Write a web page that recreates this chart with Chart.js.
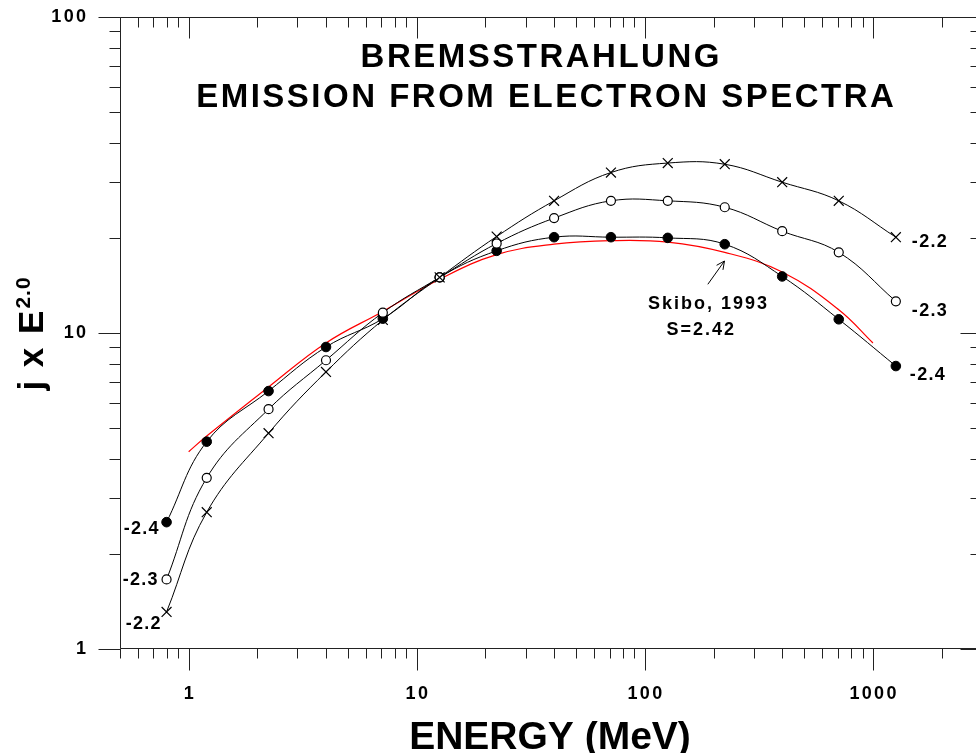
<!DOCTYPE html>
<html><head><meta charset="utf-8">
<script src="https://cdn.jsdelivr.net/npm/chart.js@4.4.1/dist/chart.umd.min.js"></script>
<style>html,body{margin:0;padding:0;overflow:hidden;background:#fff;width:976px;height:753px}canvas{display:block}</style>
</head><body>
<canvas id="c" width="990" height="753" style="width:990px;height:753px"></canvas>
<script>
// ---- data ----
const energies = [0.8, 1.2, 2.24, 4, 7.1, 12.6, 22.4, 40, 71, 126, 224, 400, 708, 1260];
const spectrum22 = [1.31, 2.71, 4.82, 7.53, 11.0, 15.0, 20.2, 26.2, 32.2, 34.5, 34.2, 30.0, 26.2, 20.1];
const spectrum23 = [1.66, 3.48, 5.74, 8.2, 11.6, 15.0, 19.2, 23.1, 26.2, 26.2, 25.0, 21.0, 18.0, 12.6];
const spectrum24 = [2.52, 4.53, 6.55, 9.03, 11.1, 15.0, 18.2, 20.1, 20.1, 20.0, 19.1, 15.1, 11.05, 7.86];
const skiboEnergies = [1.0, 1.2, 2.24, 4, 7.1, 12.6, 22.4, 40, 71, 126, 224, 400, 708, 1000];
const skiboValues = [4.21, 4.72, 6.75, 9.3, 11.7, 14.8, 17.7, 19.1, 19.6, 19.4, 18.0, 15.6, 11.85, 9.3];
const seriesLabels = ['-2.2', '-2.3', '-2.4'];
const xTickLabels = [1, 10, 100, 1000];
const yTickLabels = [1, 10, 100];
const titleLines = ['BREMSSTRAHLUNG', 'EMISSION FROM ELECTRON SPECTRA'];
const xTitle = 'ENERGY (MeV)';
const yTitleMain = 'j x E';
const yTitleSup = '2.0';
const noteLines = ['Skibo, 1993', 'S=2.42'];

// ---- axis tick positions (1..9 x 10^n) ----
function logTicks(min, max) {
  const out = [];
  for (let d = -2; d <= 5; d++) for (let m = 1; m <= 9; m++) {
    const v = +(m * Math.pow(10, d)).toPrecision(6);
    if (v >= min - 1e-9 && v <= max + 1e-9) out.push(v);
  }
  return out;
}
const X_MIN = 0.5, X_MAX = 3000, Y_MIN = 1, Y_MAX = 100;
const isMajor = v => Math.abs(Math.log10(v) - Math.round(Math.log10(v))) < 1e-6;

const FONT = '"Liberation Sans", Arial, Helvetica, sans-serif';
function drawSpaced(ctx, text, x, y, align, spacing) {
  const chars = [...text];
  const widths = chars.map(c => ctx.measureText(c).width);
  const total = widths.reduce((a, b) => a + b, 0) + spacing * (chars.length - 1);
  let sx = align === 'center' ? x - total / 2 : align === 'right' ? x - total : x;
  ctx.textAlign = 'left';
  chars.forEach((c, i) => { ctx.fillText(c, sx, y); sx += widths[i] + spacing; });
  return total;
}

const decor = {
  id: 'decor',
  afterDraw(chart) {
    const ctx = chart.ctx, xs = chart.scales.x, ys = chart.scales.y, a = chart.chartArea;
    const L = Math.round(a.left) + 0.5, R = Math.round(a.right) - 0.5, T = Math.round(a.top) + 0.5, B = Math.round(a.bottom) - 0.5;
    ctx.save();
    // frame
    ctx.strokeStyle = '#222'; ctx.lineWidth = 1;
    ctx.beginPath();
    ctx.moveTo(L, T); ctx.lineTo(R, T); ctx.lineTo(R, B); ctx.lineTo(L, B); ctx.closePath();
    ctx.stroke();
    // ticks
    ctx.beginPath();
    xs.ticks.forEach(t => {
      const px = Math.round(xs.getPixelForValue(t.value)) + 0.5;
      const mj = isMajor(t.value);
      ctx.moveTo(px, B); ctx.lineTo(px, B + (mj ? 22 : 10));
      ctx.moveTo(px, T); ctx.lineTo(px, T + (mj ? 21 : 10));
    });
    ys.ticks.forEach(t => {
      const py = Math.round(ys.getPixelForValue(t.value)) + 0.5;
      const mj = isMajor(t.value);
      ctx.moveTo(L - (mj ? 22 : 11), py); ctx.lineTo(L, py);
      ctx.moveTo(R - (mj ? 21 : 11), py); ctx.lineTo(R, py);
    });
    ctx.stroke();

    ctx.fillStyle = '#000';
    ctx.textBaseline = 'middle';
    ctx.font = 'bold 18px ' + FONT;
    xTickLabels.forEach(v => drawSpaced(ctx, String(v), xs.getPixelForValue(v), 694, 'center', 2.3));
    yTickLabels.forEach(v => drawSpaced(ctx, String(v), 86, ys.getPixelForValue(v), 'right', 2.3));

    // series end labels
    const sets = [spectrum22, spectrum23, spectrum24];
    const leftOff = [[-6, 12], [-9, 1], [-8, 7]];
    const rightOff = [[16, 5], [16, 10], [14, 9]];
    sets.forEach((s, i) => {
      const x0 = xs.getPixelForValue(energies[0]), y0 = ys.getPixelForValue(s[0]);
      drawSpaced(ctx, seriesLabels[i], x0 + leftOff[i][0], y0 + leftOff[i][1], 'right', 1.3);
      const n = energies.length - 1;
      const x1 = xs.getPixelForValue(energies[n]), y1 = ys.getPixelForValue(s[n]);
      drawSpaced(ctx, seriesLabels[i], x1 + rightOff[i][0], y1 + rightOff[i][1], 'left', 1.3);
    });

    // note + arrow (data coordinates)
    drawSpaced(ctx, noteLines[0], xs.getPixelForValue(188), ys.getPixelForValue(12.35), 'center', 2);
    drawSpaced(ctx, noteLines[1], xs.getPixelForValue(175), ys.getPixelForValue(10.2), 'center', 2);
    const tx = xs.getPixelForValue(188.8), ty = ys.getPixelForValue(14.26);
    const hx = xs.getPixelForValue(223.4), hy = ys.getPixelForValue(16.9);
    const ang = Math.atan2(hy - ty, hx - tx);
    ctx.beginPath(); ctx.strokeStyle = '#000'; ctx.lineWidth = 1;
    ctx.moveTo(tx, ty); ctx.lineTo(hx, hy);
    [0.45, -0.45].forEach(d => { ctx.moveTo(hx, hy); ctx.lineTo(hx - 9 * Math.cos(ang + d), hy - 9 * Math.sin(ang + d)); });
    ctx.stroke();

    // title
    ctx.textBaseline = 'alphabetic';
    ctx.font = 'bold 33px ' + FONT;
    drawSpaced(ctx, titleLines[0], 540, 67, 'center', 2.5);
    drawSpaced(ctx, titleLines[1], 545, 107, 'center', 2.5);

    // x title
    ctx.font = 'bold 39px ' + FONT;
    drawSpaced(ctx, xTitle, 550, 749, 'center', 0);

    // y title (rotated with superscript)
    ctx.save();
    ctx.translate(43, 334);
    ctx.rotate(-Math.PI / 2);
    ctx.font = 'bold 35px ' + FONT;
    const mainW = [...yTitleMain].reduce((s, c) => s + ctx.measureText(c).width, 0) + 2 * (yTitleMain.length - 1);
    ctx.font = 'bold 21px ' + FONT;
    const supW = [...yTitleSup].reduce((s, c) => s + ctx.measureText(c).width, 0) + 1 * (yTitleSup.length - 1);
    const start = -(mainW + 2 + supW) / 2;
    ctx.font = 'bold 35px ' + FONT;
    drawSpaced(ctx, yTitleMain, start, 0, 'left', 2);
    ctx.font = 'bold 21px ' + FONT;
    drawSpaced(ctx, yTitleSup, start + mainW + 2, -13, 'left', 1);
    ctx.restore();

    ctx.restore();
  }
};

const toPts = (xsArr, ysArr) => xsArr.map((x, i) => ({ x, y: ysArr[i] }));

new Chart(document.getElementById('c').getContext('2d'), {
  type: 'line',
  data: {
    datasets: [
      { label: seriesLabels[0], data: toPts(energies, spectrum22), borderColor: '#000', borderWidth: 1, tension: 0.4,
        pointStyle: 'crossRot', pointRadius: 7, pointBorderWidth: 1.2, pointBorderColor: '#000', pointBackgroundColor: '#000' },
      { label: seriesLabels[1], data: toPts(energies, spectrum23), borderColor: '#000', borderWidth: 1, tension: 0.4,
        pointStyle: 'circle', pointRadius: 4.5, pointBorderWidth: 1.2, pointBorderColor: '#000', pointBackgroundColor: '#fff' },
      { label: seriesLabels[2], data: toPts(energies, spectrum24), borderColor: '#000', borderWidth: 1, tension: 0.4,
        pointStyle: 'circle', pointRadius: 4.8, pointBorderWidth: 1, pointBorderColor: '#000', pointBackgroundColor: '#000' },
      { label: 'Skibo, 1993', data: toPts(skiboEnergies, skiboValues), borderColor: '#ff0000', borderWidth: 1.2, tension: 0.4,
        pointRadius: 0 }
    ]
  },
  options: {
    responsive: false, animation: false, devicePixelRatio: 1,
    layout: { padding: { top: 17, right: 6, left: 0, bottom: 0 } },
    plugins: { legend: { display: false }, tooltip: { enabled: false } },
    scales: {
      x: { type: 'logarithmic', min: X_MIN, max: X_MAX, grid: { display: false }, border: { display: false },
           ticks: { display: false },
           afterBuildTicks: s => { s.ticks = logTicks(X_MIN, X_MAX).map(v => ({ value: v })); },
           afterFit: s => { s.height = 104; } },
      y: { type: 'logarithmic', min: Y_MIN, max: Y_MAX, grid: { display: false }, border: { display: false },
           ticks: { display: false },
           afterBuildTicks: s => { s.ticks = logTicks(Y_MIN, Y_MAX).map(v => ({ value: v })); },
           afterFit: s => { s.width = 120; } }
    }
  },
  plugins: [decor]
});
</script>
</body></html>
